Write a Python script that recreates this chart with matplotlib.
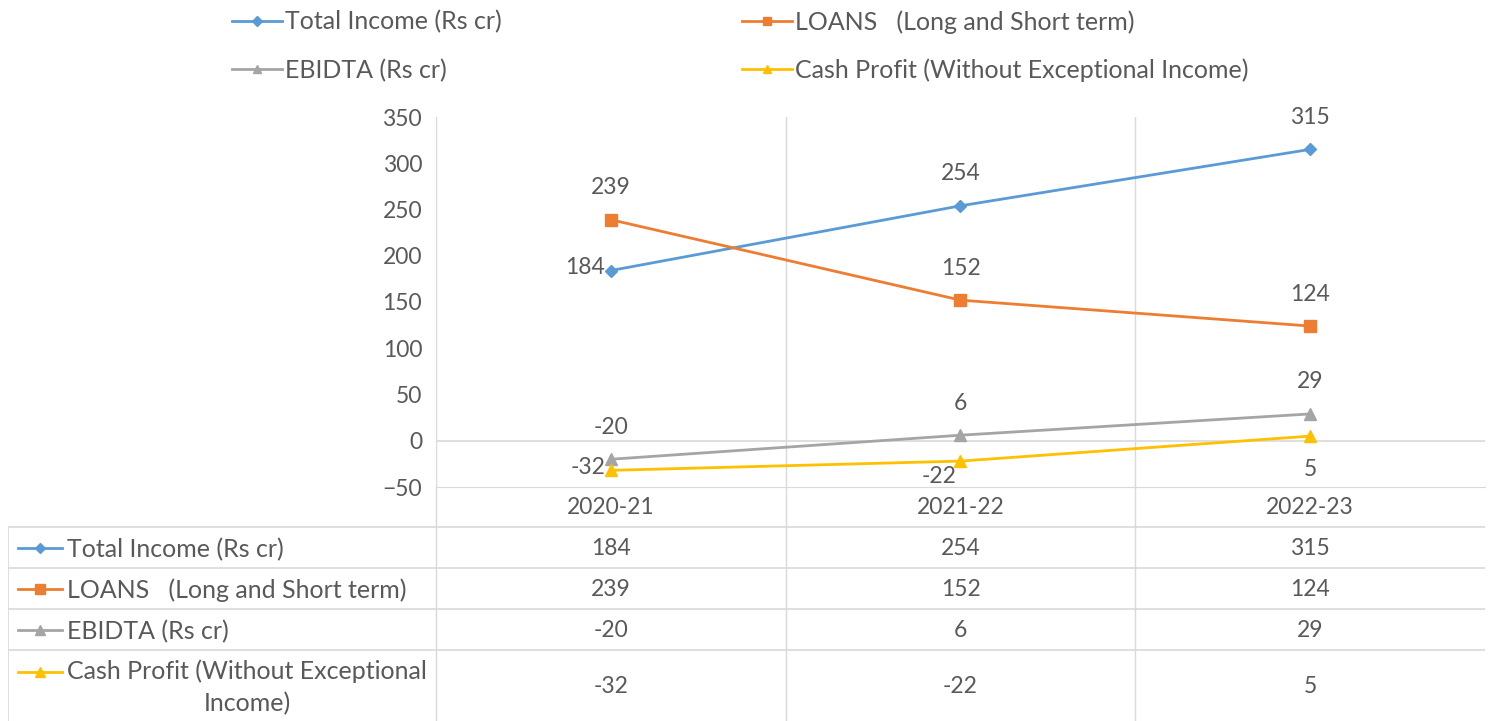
import matplotlib.pyplot as plt

plt.rcParams['font.family'] = ['Lato', 'DejaVu Sans']

years = ['2020-21', '2021-22', '2022-23']
total_income = [184, 254, 315]
loans = [239, 152, 124]
ebidta = [-20, 6, 29]
cash_profit = [-32, -22, 5]

names = ['Total Income (Rs cr)', 'LOANS   (Long and Short term)', 'EBIDTA (Rs cr)',
         'Cash Profit (Without Exceptional Income)']
table_names = ['Total Income (Rs cr)', 'LOANS   (Long and Short term)', 'EBIDTA (Rs cr)',
               'Cash Profit (Without Exceptional\nIncome)']
series = [total_income, loans, ebidta, cash_profit]
colors = ['#5B9BD5', '#ED7D31', '#A5A5A5', '#FFC000']
markers = ['D', 's', '^', '^']
msizes = [6, 8, 8, 8]
# where the data label sits for each point
label_pos = [['left', 'above', 'above'],
             ['above', 'above', 'above'],
             ['above', 'above', 'above'],
             ['left', 'leftbelow', 'below']]

txt = '#595959'
grid = '#D9D9D9'
fs = 16.5   # numbers
fst = 18    # text labels

W, H = 1491, 721
L, R, T, B = 436, 1485, 117, 487
TL = 8  # table left edge
cw = (R - L) / 3

fig = plt.figure(figsize=(W / 100, H / 100), dpi=100)
ax = fig.add_axes([L / W, 1 - B / H, (R - L) / W, (B - T) / H])
ax.set_xlim(-0.5, 2.5)
ax.set_ylim(-50, 350)
ax.set_yticks(range(-50, 351, 50))
ax.set_xticks([])
for s in ['top', 'right', 'left']:
    ax.spines[s].set_visible(False)
ax.spines['bottom'].set_color(grid)
ax.tick_params(axis='y', length=0, labelsize=fs, labelcolor=txt, pad=10)
for xv in [-0.5, 0.5, 1.5]:
    ax.axvline(xv, color=grid, lw=1, zorder=0)
ax.axhline(0, color=grid, lw=1.2, zorder=0)

offs = {'above': ((0, 23), 'center'), 'below': ((0, -24), 'center'),
        'left': ((-4, 2), 'right'), 'leftbelow': ((-3, -11), 'right')}
x = list(range(len(years)))
handles = []
for vals, c, m, ms, pos in zip(series, colors, markers, msizes, label_pos):
    h, = ax.plot(x, vals, color=c, lw=2, marker=m, ms=ms)
    handles.append(h)
    for xi, v, p in zip(x, vals, pos):
        o, ha = offs[p]
        ax.annotate(str(v), (xi, v), xytext=o, textcoords='offset points',
                    ha=ha, va='center', fontsize=fs, color=txt)

# legend at the top
order = [0, 2, 1, 3]
fig.legend([handles[i] for i in order], [names[i] for i in order], ncol=2,
           loc='upper left', bbox_to_anchor=(232 / W, 1 - 10 / H), frameon=False,
           fontsize=fst, labelcolor=txt, handlelength=2.0, handletextpad=0.12,
           labelspacing=1.0, columnspacing=9.6, borderpad=0, borderaxespad=0,
           markerscale=0.8)

# data table below
tax = fig.add_axes([TL / W, 0, (R - TL) / W, (H - B) / H])
xmin = -0.5 - (L - TL) / cw
tax.set_xlim(xmin, 2.5)
tax.set_ylim(H, B)
tax.axis('off')

def px(p):
    return xmin + (p - TL) / cw

rows = [527, 568, 609, 650, 721]
for yv in rows[:-1]:
    tax.plot([xmin, 2.5], [yv, yv], color=grid, lw=1.2)
tax.plot([xmin, xmin], [rows[0], H], color=grid, lw=1.2)
for xv in [-0.5, 0.5, 1.5]:
    tax.plot([xv, xv], [B, H], color=grid, lw=1)
for xi, yr in zip(x, years):
    tax.text(xi, 508, yr, ha='center', va='center', fontsize=fs, color=txt)

for i in range(4):
    yc = (rows[i] + rows[i + 1]) / 2
    ky = yc if i < 3 else 672
    tax.plot([px(18), px(62)], [ky, ky], color=colors[i], lw=2)
    tax.plot([px(40)], [ky], color=colors[i], marker=markers[i], ms=msizes[i] - 1)
    tax.text(px(67), yc + 2, table_names[i], ha='left', va='center',
             multialignment='center', fontsize=fst, color=txt, linespacing=1.45)
    for xi, v in zip(x, series[i]):
        tax.text(xi, yc + 1, str(v), ha='center', va='center', fontsize=fs, color=txt)

fig.savefig('out.png', dpi=100)
